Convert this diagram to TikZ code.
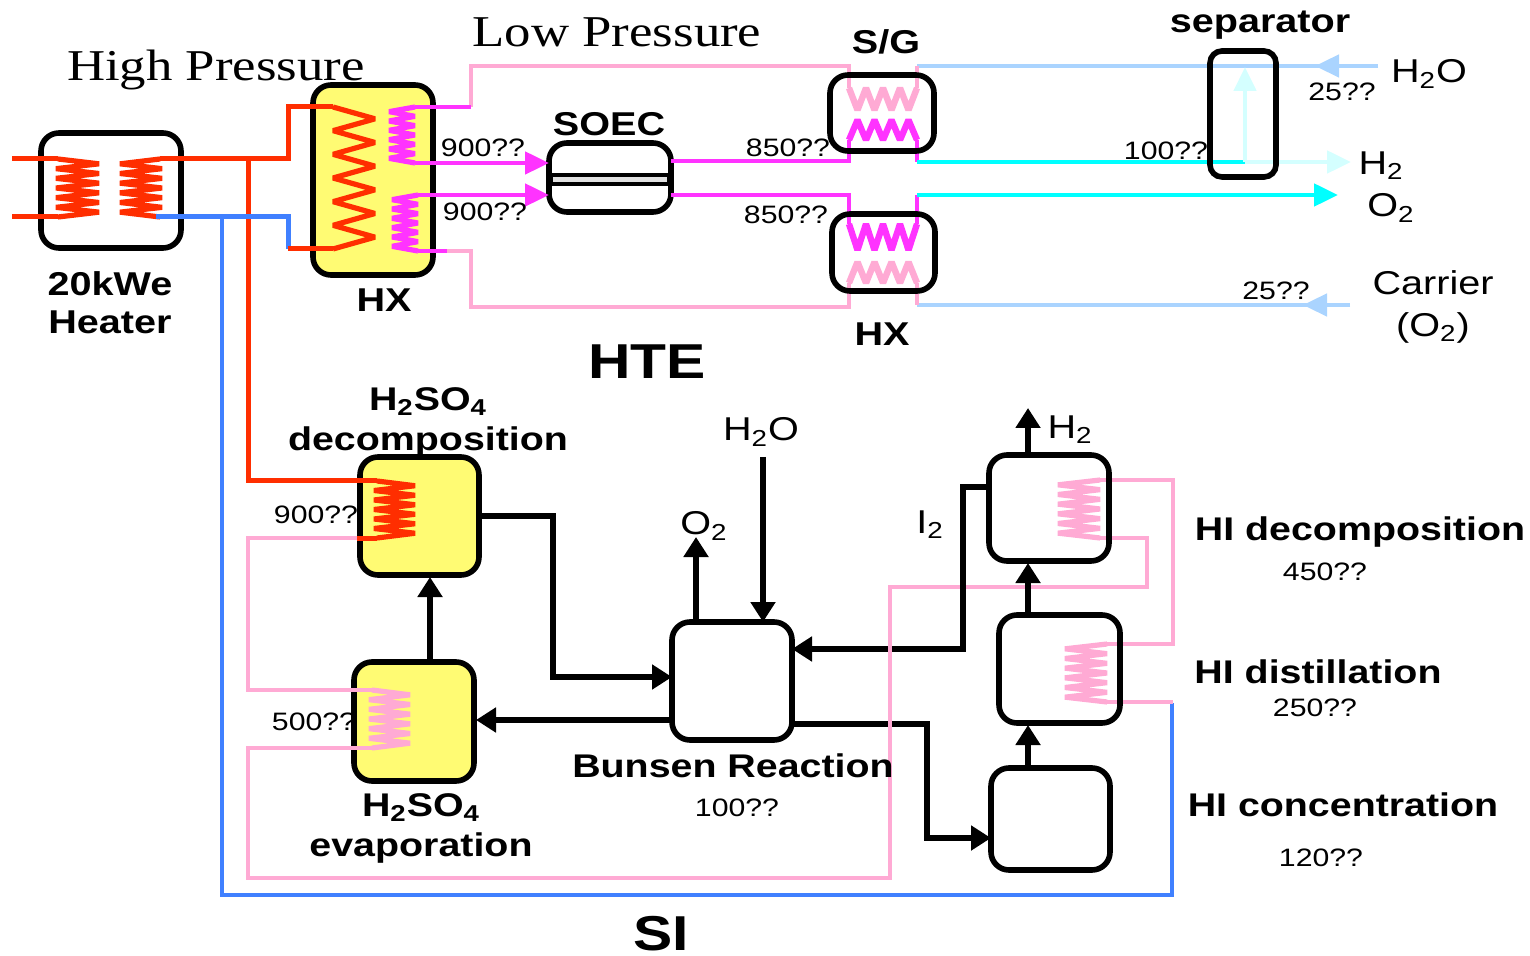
\documentclass[tikz,border=0pt]{standalone}
\usepackage{fontspec}
\setmainfont[FakeStretch=1.2]{Liberation Sans}
\newfontfamily\serifwide[FakeStretch=1.2]{Liberation Serif}
\usetikzlibrary{calc,arrows.meta}
\definecolor{hotred}{HTML}{FF2E00}
\definecolor{coldblue}{HTML}{4080FF}
\definecolor{steampink}{HTML}{FFAAD4}
\definecolor{steammag}{HTML}{FF33FF}
\definecolor{waterblue}{HTML}{AAD4FF}
\definecolor{gascyan}{HTML}{00FFFF}
\definecolor{palecyan}{HTML}{D4FFFF}
\definecolor{boxyellow}{HTML}{FFFB73}
\tikzset{
	unit/.style 2 args={draw,line width=2.8pt,rounded corners=9pt,inner sep=0pt,outer sep=0pt,minimum width=#1*0.5pt,minimum height=#2*0.5pt},
	title/.style={inner sep=0pt,font=\bfseries\fontsize{16.5}{19}\selectfont,align=center},
	subtitle/.style={inner sep=0pt,font=\bfseries\fontsize{16.4}{20}\selectfont,align=center},
	big/.style={inner sep=0pt,font=\bfseries\fontsize{24.5}{28}\selectfont},
	pressure/.style={inner sep=0pt,font=\serifwide\fontsize{22}{26}\selectfont},
	fluid/.style={inner sep=0pt,font=\fontsize{16.5}{21}\selectfont,align=center},
	temp/.style={inner sep=0pt,font=\fontsize{12.6}{15}\selectfont},
	pipe/.style={line width=2.4pt,line join=miter},
	winding/.style={line width=2.6pt,line join=bevel},
	flow/.style={line width=2.8pt,-{Triangle[length=10pt,width=12pt]}},
	tipflow/.style={line width=2.4pt,-{Triangle[length=12pt,width=11pt]}}
}
% zigzag between two points
\def\coil[#1](#2)(#3)(#4)(#5:#6)#7{\draw[winding,#1] (#2) \foreach \k [evaluate=\k as \cpos using {\k/(#7+1)}, evaluate=\k as \coff using {mod(\k,2)==1 ? #5 : #6}] in {1,...,#7} {-- ($(#2)!\cpos!(#3)+\coff*(#4)$)} -- (#3);}

\begin{document}
\begin{tikzpicture}[x=0.5pt,y=-0.5pt]
	%%%%% START %%%%%
	\useasboundingbox (0,0) rectangle (1530,956);
	
	\node[unit={140}{115}] (heater) at (111,190.5) {};
	\node[unit={120}{190},fill=boxyellow] (hxhigh) at (373,180) {};
	\node[unit={122}{69}] (soec) at (610,177.5) {};
	
	\node[unit={119}{118},fill=boxyellow] (decomp) at (419.5,516) {};
	\node[unit={120}{119},fill=boxyellow] (evap) at (414,721.5) {};
	\node[unit={120}{118}] (bunsen) at (732,681) {};
	\node[unit={119}{102}] (hiconc) at (1050.5,819) {};
	
	\draw[line width=2.2pt,fill=black!12] (551,175) rectangle (669,184);
	
	% coil ends
	\coordinate (hA) at (58,159);
	\coordinate (hB) at (58,217);
	\coordinate (hC) at (160,159);
	\coordinate (hD) at (160,217);
	\coordinate (xA) at (333,107);
	\coordinate (xB) at (333,249);
	\coordinate (xC) at (415,107);
	\coordinate (xD) at (415,163);
	\coordinate (xE) at (418,195);
	\coordinate (xF) at (418,251);
	\coordinate (gA) at (849,88);
	\coordinate (gB) at (917,88);
	\coordinate (gC) at (849,140);
	\coordinate (gD) at (917,140);
	\coordinate (lA) at (849,224);
	\coordinate (lB) at (917,224);
	\coordinate (lC) at (849,283);
	\coordinate (lD) at (917,283);
	\coordinate (dA) at (377,481);
	\coordinate (dB) at (377,538);
	\coordinate (eA) at (372,690);
	\coordinate (eB) at (372,748);
	\coordinate (iA) at (1100,480);
	\coordinate (iB) at (1100,538);
	\coordinate (tA) at (1107,644);
	\coordinate (tB) at (1107,702);
	
	% pipe ends
	\coordinate (inA) at (12,159);
	\coordinate (inB) at (12,217);
	\coordinate (tapR) at (248,159);
	\coordinate (tapB) at (222,217);
	\coordinate (upX) at (288,159);
	\coordinate (loX) at (288,217);
	\coordinate (blueOut) at (156,217);
	\coordinate (magA) at (471,107);
	\coordinate (magB) at (447,251);
	\coordinate (sgPink) at (849,66);
	\coordinate (sgBlue) at (917,66);
	\coordinate (sgMag) at (849,161);
	\coordinate (sgCyan) at (917,162);
	\coordinate (lwMag) at (849,195);
	\coordinate (lwCyan) at (917,195);
	\coordinate (lwPink) at (849,307);
	\coordinate (lwBlue) at (917,305);
	\coordinate (stub) at (357,538);
	\coordinate (sepIn) at (1245,162);
	\coordinate (hotOut) at (1173,702);
	\coordinate (retLow) at (890,878);
	\coordinate (retUp) at (890,587);
	
	\coil[hotred](hA)(hB)(1,0)(41:-2){11}
	\coil[hotred](hC)(hD)(1,0)(-40:2){11}
	\coil[hotred](xA)(xB)(1,0)(42:0){11}
	\coil[steammag](xC)(xD)(1,0)(-26:0){11}
	\coil[steammag](xE)(xF)(1,0)(-26:0){11}
	\coil[steampink,line width=3.2pt](gA)(gB)(0,1)(22:0){7}
	\coil[steammag,line width=3.2pt](gC)(gD)(0,1)(-20:0){7}
	\coil[steammag,line width=3.2pt](lA)(lB)(0,1)(26:0){7}
	\coil[steampink,line width=3.2pt](lC)(lD)(0,1)(-21:0){7}
	\coil[hotred](dA)(dB)(1,0)(38:-3){11}
	\coil[steampink](eA)(eB)(1,0)(38:-3){11}
	\coil[steampink](iA)(iB)(1,0)(-42:0){11}
	\coil[steampink](tA)(tB)(1,0)(-42:0){11}
	
	\draw[pipe,hotred,line width=2.5pt] (inA) -- (hA);
	\draw[pipe,hotred,line width=2.5pt] (inB) -- (hB);
	\draw[pipe,hotred,line width=2.5pt] (hC) -- (upX) |- (xA);
	\draw[pipe,hotred,line width=2.5pt] (tapR) -- (tapR |- dA) -- (dA);
	\draw[pipe,steampink] (stub) -- (248,538) -- (248,690) -- (eA);
	\draw[pipe,hotred,line width=2.5pt] (dB) -- (stub);
	\draw[pipe,coldblue,line width=2.5pt] (blueOut) -- (loX) -- (loX |- xB);
	\draw[pipe,hotred,line width=2.5pt] (loX |- xB) -- (xB);
	\draw[pipe,coldblue] (tapB) -- (222,895) -- (1172,895) -- (1172,703);
	
	\draw[pipe,steampink] (magA) -- (magA |- sgPink) -- (sgPink) -- (gA);
	\draw[pipe,steammag] (xC) -- (magA);
	\draw[pipe,steampink] (magB) -- (471,251) -- (471,307) -- (lwPink) -- (lC);
	\draw[pipe,steammag] (xF) -- (magB);
	\draw[tipflow,steammag] (xD) -- (soec.west |- xD);
	\draw[tipflow,steammag] (xE) -- (soec.west |- xE);
	\draw[pipe,steammag] (soec.east |- sgMag) -- (sgMag) -- (gC);
	\draw[pipe,steammag] (soec.east |- lwMag) -- (lwMag) -- (lA);
	\draw[pipe,steammag] (gD) -- (sgCyan);
	\draw[pipe,steammag] (lwCyan) -- (lB);
	
	\draw[pipe,waterblue] (1378,66) -- (sgBlue);
	\draw[tipflow,waterblue] (1378,66) -- (1315,66);
	\draw[pipe,waterblue] (1350,305) -- (lwBlue);
	\draw[tipflow,waterblue] (1350,305) -- (1303,305);
	\draw[pipe,steampink] (sgBlue) -- (gB);
	\draw[pipe,steampink] (lD) -- (lwBlue);
	\draw[pipe,gascyan] (sgCyan) -- (sepIn);
	\draw[tipflow,gascyan] (lwCyan) -- (1338,195);
	\draw[tipflow,palecyan] (sepIn) -- (1351,162);
	\draw[tipflow,palecyan] (sepIn) -- (1245,67);
	
	\draw[pipe,steampink] (eB) -- (248,748) -- (248,878) -- (retLow);
	\draw[pipe,steampink] (retUp) -- (1147,587) -- (1147,538) -- (iB);
	\draw[pipe,steampink] (iA) -- (1173,480) -- (1173,644) -- (tA);
	\draw[pipe,steampink] (tB) -- (hotOut);
	
	\node[unit={104}{76}] (sg) at (882,113) {};
	\node[unit={103}{77}] (hxlow) at (883.5,252.5) {};
	\node[unit={66}{126},rounded corners=6pt] (sep) at (1243,114) {};
	\node[unit={120}{106}] (hidec) at (1049,508) {};
	\node[unit={121}{108}] (hidist) at (1059.5,669) {};
	
	\draw[flow] (430,662) -- (430,577);
	\draw[flow] (decomp.east) -- (553,516) -- (553,677) -- (bunsen.west |- 0,677);
	\draw[flow] (bunsen.west |- 0,720) -- (476,720);
	\draw[flow] (696,622) -- (696,537);
	\draw[flow] (763,457) -- (763,622);
	\draw[flow] (hidec.west |- 0,487) -- (963,487) -- (963,649) -- (bunsen.east |- 0,649);
	\draw[flow] (bunsen.east |- 0,724) -- (927,724) -- (927,838) -- (hiconc.west |- 0,838);
	\draw[flow] (1028,768) -- (1028,725);
	\draw[flow] (1028,615) -- (1028,563);
	\draw[flow] (1028,455) -- (1028,408);
	
	\draw[pipe,steampink,line cap=rect] (retLow) -- (retUp);
	
	\node[pressure] (highp) at (216,70) {High Pressure};
	\node[pressure] (lowp) at (617,32) {Low Pressure};
	\node[title] (sglabel) at (886,42) {S/G};
	\node[title] (seplabel) at (1260,25) {separator};
	\node[title] (soeclabel) at (609,124) {SOEC};
	\node[title] (heaterlabel) at (110,303) {20kWe\\Heater};
	\node[title] (hxhighlabel) at (384,300) {HX};
	\node[title] (hxlowlabel) at (882,334) {HX};
	\node[big] (hte) at (647,362) {HTE};
	\node[big] (si) at (661,934) {SI};
	
	\node[temp] (tA1) at (483,148) {900??};
	\node[temp] (tA2) at (485,212) {900??};
	\node[temp] (tB1) at (788,148) {850??};
	\node[temp] (tB2) at (786,215) {850??};
	\node[temp] (tC) at (1166,151) {100??};
	\node[temp] (tD) at (1342,92) {25??};
	\node[temp] (tE) at (1276,291) {25??};
	\node[fluid] (waterA) at (1429,74) {H\textsubscript{2}O};
	\node[fluid] (hydroA) at (1381,166) {H\textsubscript{2}};
	\node[fluid] (oxyA) at (1391,208) {O\textsubscript{2}};
	\node[fluid] (carrier) at (1433,307) {Carrier\\(O\textsubscript{2})};
	
	\node[subtitle] (decomplabel) at (428,422) {H\textsubscript{2}SO\textsubscript{4}\\decomposition};
	\node[subtitle] (evaplabel) at (421,828) {H\textsubscript{2}SO\textsubscript{4}\\evaporation};
	\node[subtitle] (bunsenlabel) at (733,766) {Bunsen Reaction};
	\node[subtitle] (hideclabel) at (1360,532) {HI decomposition};
	\node[subtitle] (hidistlabel) at (1318,672) {HI distillation};
	\node[subtitle] (hiconclabel) at (1343,805) {HI concentration};
	\node[fluid] (waterB) at (761,432) {H\textsubscript{2}O};
	\node[fluid] (oxyB) at (704,526) {O\textsubscript{2}};
	\node[fluid] (hydroB) at (1070,430) {H\textsubscript{2}};
	\node[fluid] (iodine) at (930,525) {I\textsubscript{2}};
	\node[temp] (tF) at (316,515) {900??};
	\node[temp] (tG) at (314,722) {500??};
	\node[temp] (tH) at (737,808) {100??};
	\node[temp] (tI) at (1325,572) {450??};
	\node[temp] (tJ) at (1315,708) {250??};
	\node[temp] (tK) at (1321,858) {120??};
	
	%%%%% END %%%%%
\end{tikzpicture}
\end{document}
